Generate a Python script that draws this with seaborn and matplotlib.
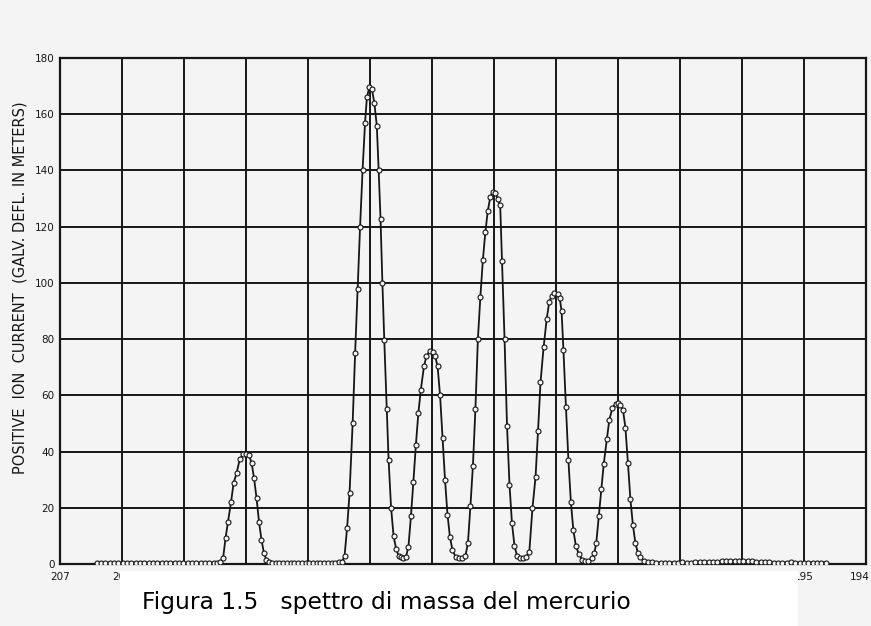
import numpy as np
import pandas as pd
import seaborn as sns
import matplotlib.pyplot as plt
import matplotlib.transforms as mtransforms
from matplotlib.patches import Rectangle

# Mass scale (decreasing to the right) and current scale
mass_ticks = [207, 206, 205, 204, 203, 202, 201, 200, 199, 198, 197, 196, 195, 194]
mass_tick_labels = ["207", "206", "205", "204", "203", "202", "201", "200",
                    "199", "198", "197", "196", "195", "194"]
current_ticks = [0, 20, 40, 60, 80, 100, 120, 140, 160, 180]

# Scan readings, in order of the sweep (mass, galvanometer deflection in m)
left_base_mass = [206.41, 206.34, 206.27, 206.20, 206.13, 206.06, 205.99, 205.92,
                  205.85, 205.78, 205.71, 205.64, 205.57, 205.50, 205.43, 205.36,
                  205.29, 205.22, 205.15, 205.08, 205.01, 204.94, 204.87, 204.80,
                  204.73, 204.66, 204.59, 204.52, 204.46]
left_base_current = [0.5, 0.5, 0.4, 0.5, 0.5, 0.4, 0.5, 0.5, 0.5, 0.4, 0.5, 0.5,
                     0.4, 0.5, 0.5, 0.5, 0.4, 0.5, 0.5, 0.5, 0.4, 0.5, 0.5, 0.4,
                     0.5, 0.5, 0.5, 0.4, 0.5]

peak204_mass = [204.42, 204.37, 204.33, 204.29, 204.24, 204.20, 204.15, 204.10,
                204.05, 204.00, 203.95, 203.91, 203.87, 203.83, 203.79, 203.75,
                203.71, 203.67, 203.63]
peak204_current = [0.6, 2.0, 9.2, 15.1, 22.2, 28.8, 32.5, 37.3, 39.0, 39.2, 38.6,
                   36.0, 30.5, 23.4, 15.0, 8.6, 3.8, 1.5, 0.8]

mid_base_mass = [203.58, 203.52, 203.46, 203.40, 203.34, 203.28, 203.22, 203.16,
                 203.10, 203.04, 202.98, 202.92, 202.86, 202.80, 202.74, 202.68,
                 202.62, 202.56, 202.50]
mid_base_current = [0.5, 0.5, 0.4, 0.5, 0.5, 0.5, 0.4, 0.5, 0.5, 0.5, 0.4, 0.5,
                    0.5, 0.5, 0.4, 0.5, 0.5, 0.5, 0.6]

peak202_mass = [202.45, 202.41, 202.37, 202.33, 202.28, 202.24, 202.20, 202.16,
                202.12, 202.08, 202.05, 202.01, 201.97, 201.93, 201.89, 201.86,
                201.83, 201.80, 201.77, 201.73, 201.70, 201.66, 201.62, 201.58,
                201.54, 201.50, 201.46]
peak202_current = [0.8, 3.0, 12.7, 25.2, 50.0, 75.0, 98.0, 120.0, 140.0, 157.0,
                   166.0, 169.7, 169.0, 164.0, 155.8, 140.0, 122.6, 100.0, 79.8,
                   55.0, 37.0, 20.0, 10.0, 5.5, 3.0, 2.4, 2.2]

peak201_mass = [201.42, 201.38, 201.34, 201.30, 201.26, 201.22, 201.18, 201.13,
                201.09, 201.04, 200.99, 200.95, 200.91, 200.87, 200.83, 200.79,
                200.75, 200.71, 200.67, 200.62, 200.57, 200.52]
peak201_current = [2.5, 6.2, 16.9, 29.3, 42.4, 53.7, 62.0, 70.3, 73.9, 75.7, 75.5,
                   74.0, 70.3, 60.0, 45.0, 30.0, 17.5, 9.5, 5.0, 2.5, 2.0, 2.2]

peak200_mass = [200.46, 200.42, 200.38, 200.34, 200.30, 200.26, 200.22, 200.18,
                200.14, 200.10, 200.06, 200.02, 199.98, 199.94, 199.90, 199.87,
                199.83, 199.79, 199.75, 199.71, 199.67, 199.63, 199.58]
peak200_current = [3.0, 7.6, 20.7, 35.0, 55.0, 80.0, 95.0, 108.0, 118.0, 125.6,
                   130.5, 132.3, 132.0, 130.0, 127.6, 107.7, 80.0, 49.2, 28.2,
                   14.5, 6.5, 3.0, 2.0]

peak199_mass = [199.54, 199.48, 199.43, 199.38, 199.33, 199.29, 199.25, 199.20,
                199.15, 199.11, 199.07, 199.03, 198.97, 198.94, 198.91, 198.88,
                198.84, 198.80, 198.76, 198.72, 198.68, 198.63, 198.58, 198.53,
                198.48]
peak199_current = [2.0, 2.6, 4.4, 19.8, 30.9, 47.2, 64.6, 77.1, 87.2, 93.1, 95.5,
                   96.5, 96.0, 94.5, 90.0, 76.0, 56.0, 37.0, 22.0, 12.0, 6.5, 3.4,
                   1.6, 1.1, 1.1]

peak198_mass = [198.42, 198.38, 198.35, 198.31, 198.27, 198.23, 198.18, 198.14,
                198.09, 198.04, 198.00, 197.96, 197.92, 197.88, 197.84, 197.80,
                197.76, 197.72, 197.68, 197.64, 197.58, 197.52]
peak198_current = [2.0, 4.0, 7.6, 16.9, 26.6, 35.6, 44.4, 51.3, 55.5, 57.0, 57.3,
                   56.5, 54.9, 48.4, 36.0, 23.0, 14.0, 7.5, 4.0, 2.4, 1.2, 0.8]

right_base_mass = [197.45, 197.38, 197.31, 197.24, 197.17, 197.10, 197.03, 196.96,
                   196.89, 196.82, 196.75, 196.68, 196.61, 196.54, 196.47, 196.40,
                   196.33, 196.26, 196.19, 196.12, 196.05, 195.98, 195.91, 195.84,
                   195.77, 195.70, 195.63, 195.56, 195.49, 195.42, 195.35, 195.28,
                   195.21, 195.14, 195.07, 195.00, 194.93, 194.86, 194.79, 194.72,
                   194.65]
right_base_current = [0.6, 0.5, 0.5, 0.4, 0.5, 0.5, 0.5, 0.6, 0.5, 0.5, 0.6, 0.6,
                      0.6, 0.7, 0.7, 0.8, 0.9, 1.0, 1.1, 1.2, 1.2, 1.1, 1.0, 0.9,
                      0.8, 0.7, 0.6, 0.6, 0.5, 0.5, 0.5, 0.5, 0.6, 0.5, 0.5, 0.5,
                      0.5, 0.5, 0.5, 0.5, 0.5]

segments = [
    (left_base_mass, left_base_current),
    (peak204_mass, peak204_current),
    (mid_base_mass, mid_base_current),
    (peak202_mass, peak202_current),
    (peak201_mass, peak201_current),
    (peak200_mass, peak200_current),
    (peak199_mass, peak199_current),
    (peak198_mass, peak198_current),
    (right_base_mass, right_base_current),
]
scan = pd.DataFrame({
    "mass": [m for seg in segments for m in seg[0]],
    "current": [c for seg in segments for c in seg[1]],
})

sns.set_theme(style="white")
plt.rcParams["font.family"] = ["DejaVu Sans"]

paper = "#f4f4f4"
ink = "#161616"

W, H = 871, 626
fig = plt.figure(figsize=(W / 100, H / 100), dpi=100, facecolor=paper)
ax = fig.add_axes([60 / W, 62 / H, 806 / W, 506 / H])
ax.set_facecolor(paper)

sns.lineplot(data=scan, x="mass", y="current", sort=False, estimator=None,
             ax=ax, color=ink, linewidth=1.3, marker="o", markersize=3.6,
             markerfacecolor=paper, markeredgecolor=ink, markeredgewidth=0.8,
             zorder=5)

ax.set_xlim(207, 194)
ax.set_ylim(0, 180)
ax.set_xticks(mass_ticks)
ax.set_xticklabels(mass_tick_labels, fontsize=7.5, color=ink)
ax.set_yticks(current_ticks)
ax.set_yticklabels([str(v) for v in current_ticks], fontsize=7.5, color=ink)
ax.tick_params(axis="both", length=0)
ax.tick_params(axis="y", pad=4)
ax.tick_params(axis="x", pad=6)
ax.grid(True, color=ink, linewidth=1.4)
ax.set_axisbelow(True)
for sp in ax.spines.values():
    sp.set_color(ink)
    sp.set_linewidth(1.6)
ax.set_xlabel("")
ax.set_ylabel("")

# keep the last mass label inside the sheet edge
last = ax.get_xticklabels()[-1]
last.set_horizontalalignment("right")
last.set_transform(last.get_transform() +
                   mtransforms.ScaledTranslation(4 / 100, 0, fig.dpi_scale_trans))

fig.text(20 / W, 1 - 288 / H, "POSITIVE  ION  CURRENT  (GALV. DEFL. IN METERS)",
         rotation=90, ha="center", va="center", fontsize=10.5, color=ink)

# caption strip laid over the lower axis labels
fig.add_artist(Rectangle((120 / W, 0), 678 / W, 55 / H, transform=fig.transFigure,
                         facecolor="white", edgecolor="none", zorder=10))
fig.text(142 / W, 1 - 609 / H, "Figura 1.5   spettro di massa del mercurio",
         ha="left", va="baseline", fontsize=16.8, color="black", zorder=11)

fig.savefig("out.png", dpi=100, facecolor=paper)
